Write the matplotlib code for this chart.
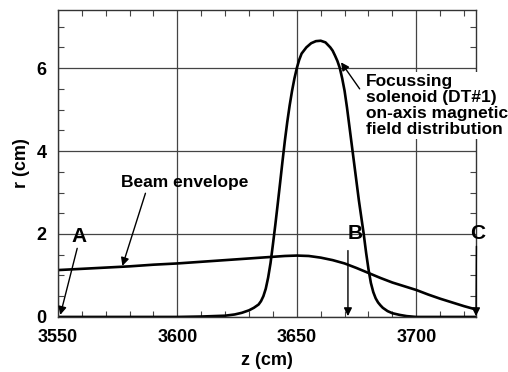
import numpy as np
import matplotlib.pyplot as plt
from matplotlib.ticker import MultipleLocator

plt.rcParams['font.family'] = ['Liberation Sans', 'DejaVu Sans']
plt.rcParams['font.weight'] = 'bold'

# beam envelope radius along the line (cm)
z_env = [3550, 3560, 3570, 3580, 3590, 3600, 3610, 3620, 3630, 3640, 3645, 3650,
         3655, 3660, 3665, 3670, 3675, 3680, 3685, 3690, 3695, 3700, 3705, 3710,
         3715, 3720, 3725]
r_env = [1.13, 1.16, 1.19, 1.22, 1.26, 1.29, 1.33, 1.37, 1.41, 1.45, 1.47, 1.48,
         1.47, 1.43, 1.37, 1.29, 1.18, 1.06, 0.94, 0.83, 0.74, 0.65, 0.54, 0.44,
         0.35, 0.26, 0.18]

# solenoid DT#1 on-axis field, scaled to the r axis
z_sol = [3550, 3600, 3610, 3615, 3620, 3624, 3627, 3630, 3632, 3634, 3635, 3636,
         3637, 3638, 3639, 3640, 3641, 3642, 3643, 3644, 3645, 3646, 3647, 3648,
         3649, 3650, 3651, 3652, 3654, 3656, 3658, 3660, 3662, 3664, 3665, 3666,
         3667, 3668, 3669, 3670, 3671, 3672, 3673, 3674, 3675, 3676, 3677, 3678,
         3679, 3680, 3681, 3682, 3683, 3684, 3685, 3686, 3688, 3690, 3693, 3696,
         3700, 3725]
b_sol = [0.0, 0.0, 0.01, 0.02, 0.03, 0.06, 0.1, 0.16, 0.22, 0.3, 0.38, 0.5,
         0.68, 0.95, 1.3, 1.75, 2.22, 2.72, 3.23, 3.75, 4.25, 4.7, 5.1, 5.45,
         5.75, 6.0, 6.2, 6.35, 6.5, 6.6, 6.65, 6.66, 6.62, 6.5, 6.42, 6.3,
         6.17, 6.0, 5.75, 5.45, 5.05, 4.6, 4.15, 3.7, 3.25, 2.8, 2.4, 2.0,
         1.55, 1.15, 0.82, 0.6, 0.45, 0.35, 0.28, 0.22, 0.14, 0.09, 0.05, 0.02,
         0.0, 0.0]

fig = plt.figure(figsize=(5.08, 3.72), dpi=100)
ax = fig.add_axes([0.114, 0.148, 0.823, 0.825])

ax.plot(z_env, r_env, color='black', lw=1.9)
ax.plot(z_sol, b_sol, color='black', lw=1.9)

ax.set_xlim(3550, 3725)
ax.set_ylim(0, 7.4)
ax.xaxis.set_major_locator(MultipleLocator(50))
ax.xaxis.set_minor_locator(MultipleLocator(10))
ax.yaxis.set_major_locator(MultipleLocator(2))
ax.yaxis.set_minor_locator(MultipleLocator(0.5))
ax.grid(True, which='major', color='#444444', lw=0.9)
ax.tick_params(which='both', direction='in', top=True, right=True,
               color='#444444', labelsize=13)
ax.tick_params(axis='x', which='major', length=0, pad=9)
ax.tick_params(axis='y', which='major', length=0, pad=8)
ax.tick_params(which='minor', length=4, width=0.8)
for s in ax.spines.values():
    s.set_color('#333333')
    s.set_linewidth(1.0)

ax.set_xlabel('z (cm)', fontsize=13, fontweight='bold', labelpad=4)
ax.set_ylabel('r (cm)', fontsize=13, fontweight='bold', labelpad=5)

arrow = dict(arrowstyle='-|>', color='black', lw=1.0, mutation_scale=12,
             shrinkA=0, shrinkB=0)

ax.annotate('Beam envelope', xy=(3577, 1.23), xytext=(3603, 3.23),
            fontsize=12.5, fontweight='bold', ha='center', va='center',
            arrowprops=dict(arrow, relpos=(0.2, 0.0)))

ax.annotate('A', xy=(3551, 0.05), xytext=(3559, 1.95), fontsize=15,
            fontweight='bold', ha='center', va='center',
            arrowprops=dict(arrow, relpos=(0.4, 0.0)))
ax.text(3674.5, 2.0, 'B', fontsize=15, fontweight='bold', ha='center', va='center')
ax.annotate('', xy=(3671.4, 0.02), xytext=(3671.4, 1.6), arrowprops=arrow)
ax.annotate('C', xy=(3725, 0.02), xytext=(3725.5, 2.0), fontsize=15,
            fontweight='bold', ha='center', va='center',
            arrowprops=dict(arrow, relpos=(0.45, 0.0)), annotation_clip=False)

ax.text(3679, 5.1, 'Focussing\nsolenoid (DT#1)\non-axis magnetic\nfield distribution',
        fontsize=12.5, fontweight='bold', ha='left', va='center', linespacing=1.1,
        bbox=dict(facecolor='white', edgecolor='none', pad=1), clip_on=False)
ax.annotate('', xy=(3668.5, 6.14), xytext=(3676.3, 5.5), arrowprops=arrow)

fig.savefig('out.png', dpi=100)
